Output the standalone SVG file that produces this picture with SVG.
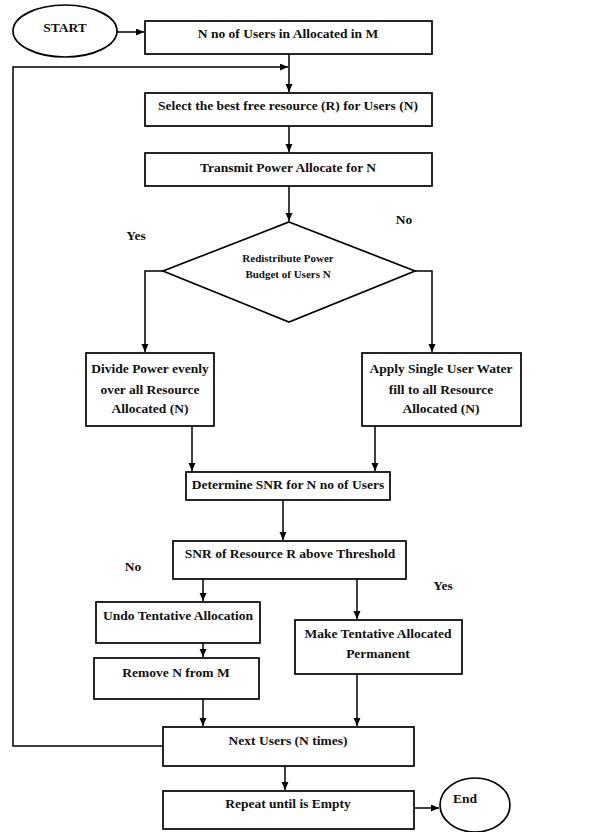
<svg xmlns="http://www.w3.org/2000/svg" width="606" height="832" viewBox="0 0 606 832">
<style>
.b{fill:#fff;stroke:#000;stroke-width:1.7}
.c{fill:none;stroke:#000;stroke-width:1.5}
text{font-family:"Liberation Serif","Times New Roman",serif;font-weight:bold;font-size:13.5px;fill:#111;text-anchor:middle}
.s{font-size:11px}
.l{font-size:13.5px}
</style>
<defs>
<marker id="ah" markerUnits="userSpaceOnUse" markerWidth="9" markerHeight="8" refX="8" refY="3.5" orient="auto">
<path d="M0,0 L8,3.5 L0,7 z" fill="#000"/>
</marker>
</defs>
<rect width="606" height="832" fill="#fff"/>
<g id="connectors" class="c" marker-end="url(#ah)">
<path d="M117,32 H144"/>
<path d="M289,54 V92"/>
<path d="M163,746 H13 V67 H288"/>
<path d="M289,126 V152"/>
<path d="M289,186 V221"/>
<path d="M163,271 H145 V352"/>
<path d="M415,271 H432 V352"/>
<path d="M192,426 V471"/>
<path d="M375,426 V471"/>
<path d="M283,500 V540"/>
<path d="M203,579 V601"/>
<path d="M357,579 V619"/>
<path d="M203,643 V657"/>
<path d="M203,699 V726"/>
<path d="M357,674 V726"/>
<path d="M285,766 V790"/>
<path d="M414,808 H439"/>
</g>
<g id="start"><ellipse class="b" cx="65" cy="31" rx="52" ry="26"/><text x="65" y="32" font-size="14">START</text></g>
<g id="n1"><rect class="b" x="145" y="21" width="287" height="33"/><text x="288" y="38">N no of Users in Allocated in M</text></g>
<g id="n2"><rect class="b" x="145" y="93" width="287" height="33"/><text x="288" y="110">Select the best free resource (R) for Users (N)</text></g>
<g id="n3"><rect class="b" x="145" y="153" width="287" height="33"/><text x="288" y="172">Transmit Power Allocate for N</text></g>
<g id="decision1"><polygon class="b" points="289,222 415,271 289,322 163,271"/><text class="s" x="288" y="262">Redistribute Power</text><text class="s" x="288" y="278">Budget of Users N</text></g>
<g id="lbl-yes1"><text x="136" y="240">Yes</text></g>
<g id="lbl-no1"><text x="404" y="224">No</text></g>
<g id="n4"><rect class="b" x="86" y="353" width="128" height="73"/><text x="150" y="373">Divide Power evenly</text><text x="150" y="394">over all Resource</text><text x="150" y="413">Allocated (N)</text></g>
<g id="n5"><rect class="b" x="362" y="353" width="159" height="73"/><text x="441" y="373">Apply Single User Water</text><text x="441" y="394">fill to all Resource</text><text x="441" y="413">Allocated (N)</text></g>
<g id="n6"><rect class="b" x="186" y="472" width="204" height="28"/><text x="288" y="489">Determine SNR for N no of Users</text></g>
<g id="n7"><rect class="b" x="173" y="541" width="233" height="38"/><text x="290" y="558">SNR of Resource R above Threshold</text></g>
<g id="lbl-no2"><text x="133" y="571">No</text></g>
<g id="lbl-yes2"><text x="443" y="590">Yes</text></g>
<g id="n8"><rect class="b" x="96" y="602" width="164" height="41"/><text x="178" y="620">Undo Tentative Allocation</text></g>
<g id="n9"><rect class="b" x="295" y="620" width="167" height="54"/><text x="378" y="638">Make Tentative Allocated</text><text x="378" y="658">Permanent</text></g>
<g id="n10"><rect class="b" x="94" y="658" width="165" height="41"/><text x="176" y="677">Remove N from M</text></g>
<g id="n11"><rect class="b" x="163" y="727" width="251" height="39"/><text x="288" y="745">Next Users (N times)</text></g>
<g id="n12"><rect class="b" x="163" y="791" width="251" height="38"/><text x="288" y="808">Repeat until is Empty</text></g>
<g id="end"><ellipse class="b" cx="475" cy="805" rx="35" ry="27"/><text x="465" y="803">End</text></g>
</svg>
